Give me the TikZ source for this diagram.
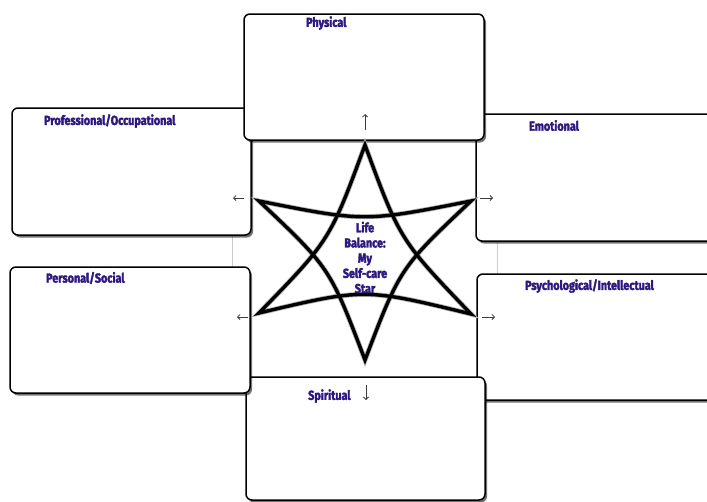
\documentclass[tikz,border=0pt]{standalone}
\usepackage{fontspec}
\usetikzlibrary{shadows,arrows.meta}
\newfontfamily\lblfont{Fira Sans}[FakeStretch=0.83,FakeBold=2.5]
\definecolor{lblcol}{RGB}{46,24,128}
\definecolor{arrcol}{RGB}{60,60,60}
\tikzset{
  box/.style={draw=black, line width=1.5pt, rounded corners=6pt, fill=white,
    inner sep=0pt, outer sep=0pt,
    drop shadow={shadow xshift=2pt, shadow yshift=-2.5pt, opacity=0.55, fill=black}},
  lbl/.style={text=lblcol, font=\lblfont\bfseries\fontsize{13}{15}\selectfont, anchor=west, inner sep=0pt},
  startext/.style={text=lblcol, font=\lblfont\bfseries\fontsize{13}{15.2}\selectfont, align=center, inner sep=0pt},
  smallarrow/.style={draw=arrcol, line width=0.8pt, -{Straight Barb[length=2.5pt,width=5pt]}},
  starline/.style={draw=black, line width=3.4pt, line join=miter},
  starhalo/.style={draw=black!30, line width=5pt, line join=miter},
  gridline/.style={draw=black!20, line width=0.6pt}
}
\begin{document}
\begin{tikzpicture}[x=1pt,y=-1pt]
\useasboundingbox (0,0) rectangle (707,501);
\clip (0,0) rectangle (707,501);
\fill[white] (0,0) rectangle (707,501);
% faint grid lines
\coordinate (g1a) at (232,230); \coordinate (g1b) at (232,270);
\coordinate (g2a) at (497,236); \coordinate (g2b) at (497,278);
\draw[gridline] (g1a) -- (g1b);
\draw[gridline] (g2a) -- (g2b);
% boxes
\node[box, minimum width=244pt, minimum height=127pt] (emo) at (598,177.5) {};
\node[box, minimum width=239pt, minimum height=127pt] (prof) at (131.5,171.5) {};
\node[box, minimum width=240pt, minimum height=126pt] (phys) at (364,77) {};
\node[box, minimum width=243pt, minimum height=126pt] (psych) at (598.5,337) {};
\node[box, minimum width=239pt, minimum height=123pt] (spir) at (365.5,438.5) {};
\node[box, minimum width=240pt, minimum height=126pt] (pers) at (130,330) {};
% labels
\node[lbl] (tphys) at (306,23) {Physical};
\node[lbl] (tprof) at (44,121) {Professional/Occupational};
\node[lbl] (temo) at (529,125.5) {Emotional};
\node[lbl] (tpers) at (46,278) {Personal/Social};
\node[lbl] (tpsych) at (525,286) {Psychological/Intellectual};
\node[lbl] (tspir) at (308,396) {Spiritual};
% small arrows
\coordinate (a1s) at (365,130); \coordinate (a1e) at (365,114);
\coordinate (a2s) at (244,198); \coordinate (a2e) at (233,198);
\coordinate (a3s) at (480,198); \coordinate (a3e) at (493,198);
\coordinate (a4s) at (248,317); \coordinate (a4e) at (237,317);
\coordinate (a5s) at (482,317); \coordinate (a5e) at (495,317);
\coordinate (a6s) at (366,385); \coordinate (a6e) at (366,400);
\draw[smallarrow] (a1s) -- (a1e);
\draw[smallarrow] (a2s) -- (a2e);
\draw[smallarrow] (a3s) -- (a3e);
\draw[smallarrow] (a4s) -- (a4e);
\draw[smallarrow] (a5s) -- (a5e);
\draw[smallarrow] (a6s) -- (a6e);
% star
\coordinate (T) at (365,145);
\coordinate (LL) at (259,313);
\coordinate (LR) at (471,314);
\coordinate (B) at (365,360);
\coordinate (UL) at (259,201);
\coordinate (UR) at (471,201);
\draw[starhalo] (T) .. controls (330,240) .. (LL) .. controls (364.5,288) .. (LR) .. controls (400,240) .. (T) -- cycle;
\draw[starhalo] (B) .. controls (330,268) .. (UL) .. controls (364.5,222) .. (UR) .. controls (400,268) .. (B) -- cycle;
\draw[starline] (T) .. controls (330,240) .. (LL) .. controls (364.5,288) .. (LR) .. controls (400,240) .. (T) -- cycle;
\draw[starline] (B) .. controls (330,268) .. (UL) .. controls (364.5,222) .. (UR) .. controls (400,268) .. (B) -- cycle;
\node[startext] (star) at (365,257.5) {Life\\Balance:\\My\\Self-care\\Star};
\end{tikzpicture}
\end{document}
